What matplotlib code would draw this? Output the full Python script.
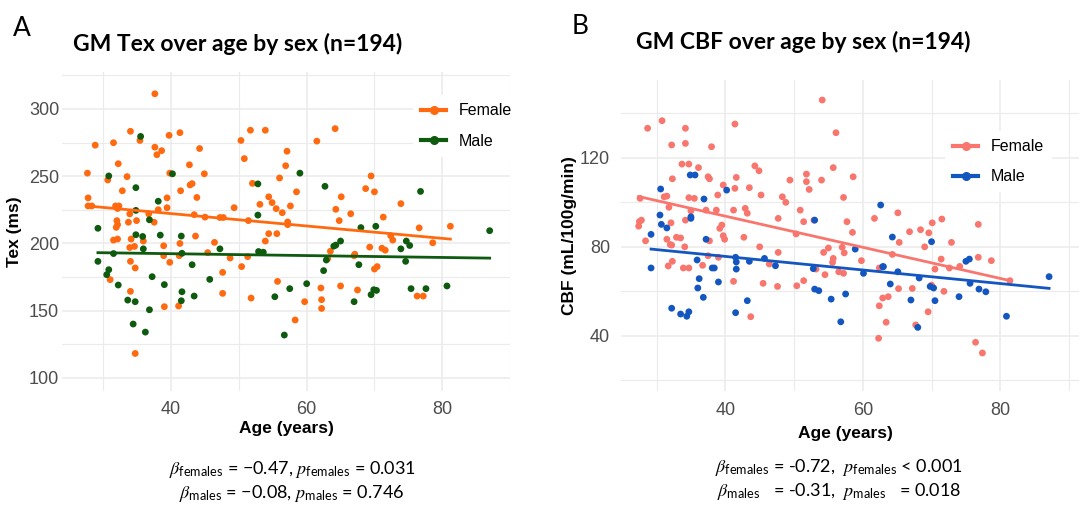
import numpy as np
import matplotlib
matplotlib.use("Agg")
import matplotlib.pyplot as plt
from matplotlib.lines import Line2D

# ---------------- data: panel A (GM Tex) ----------------
tex_f_age = [27.65, 27.75, 27.75, 28.3, 28.8, 30.65, 31.5, 32.2, 31.8, 32.3, 32.1, 32.8, 33.5, 32.0, 32.1,
             31.9, 31.5, 32.1, 33.7, 33.9, 34.0, 34.1, 33.9, 34.6, 34.9, 35.4, 35.9, 36.7, 37.5, 37.6,
             37.6, 37.9, 38.6, 38.1, 38.9, 39.4, 39.4, 39.7, 39.8, 41.3, 41.4, 41.3, 42.7, 42.8, 43.1,
             43.4, 43.6, 43.8, 44.2, 44.9, 45.0, 45.4, 46.4, 47.2, 47.7, 49.3, 50.3, 50.8, 51.4, 51.7,
             52.0, 53.1, 53.9, 53.9, 54.4, 54.4, 54.9, 55.5, 55.6, 56.0, 56.4, 56.9, 57.1, 57.2, 57.2,
             57.6, 58.5, 61.5, 63.5, 64.2, 64.3, 64.8, 65.1, 66.5, 67.1, 68.7, 69.5, 69.3, 70.0, 71.3,
             71.1, 71.6, 72.4, 72.7, 73.9, 76.6, 78.6, 81.2,
             31.0, 34.0, 34.0, 34.7, 34.7, 39.0, 38.9, 39.8, 41.1, 41.2, 47.6, 47.6, 48.7, 50.4, 51.3,
             51.8, 55.7, 58.3, 59.7, 62.1, 62.2, 62.2, 63.1, 65.0, 67.0, 67.5, 70.0, 70.4, 76.3, 77.2]
tex_f_val = [252.3, 233.9, 227.9, 227.9, 273.1, 247.2, 274.9, 259.3, 227.9, 227.9, 226.0, 239.2, 249.7, 217.0, 214.0,
             212.0, 202.5, 203.3, 215.8, 222.0, 283.4, 203.3, 197.0, 197.8, 217.0, 276.6, 201.8, 222.0, 215.8, 311.3,
             271.6, 266.0, 269.0, 225.1, 198.3, 233.9, 226.6, 280.4, 252.3, 282.4, 239.2, 200.0, 258.5, 243.5, 244.5,
             221.4, 205.5, 234.2, 270.6, 251.8, 219.6, 193.2, 200.8, 219.3, 219.3, 226.6, 276.6, 263.1, 217.0, 284.2,
             244.7, 229.1, 284.2, 201.8, 234.7, 207.3, 230.4, 225.9, 207.3, 248.7, 222.9, 257.8, 268.6, 216.0, 214.0,
             227.9, 238.4, 276.1, 194.2, 285.4, 225.4, 217.0, 234.7, 222.1, 192.0, 240.8, 250.2, 197.3, 238.4, 219.6,
             196.5, 195.0, 205.8, 202.5, 229.6, 211.6, 200.5, 212.8,
             173.1, 186.7, 164.4, 181.8, 118.2, 153.0, 190.9, 186.0, 153.5, 190.9, 178.5, 162.9, 189.2, 182.8, 190.2,
             159.4, 171.8, 143.1, 156.7, 166.9, 158.2, 151.7, 188.7, 168.4, 190.9, 165.4, 181.0, 182.8, 160.9, 160.9]

tex_m_age = [29.2, 30.8, 31.5, 34.8, 34.8, 35.5, 34.8, 35.8, 35.9, 36.8, 38.1, 38.4, 40.2, 41.5, 41.6,
             47.2, 52.8, 52.8, 52.9, 53.6, 59.0, 62.7, 64.0, 64.3, 65.0, 68.0, 70.2, 73.9, 74.7, 75.2,
             76.8, 87.0,
             29.2, 30.5, 30.8, 32.2, 33.6, 34.4, 34.7, 36.2, 36.8, 37.2, 39.0, 41.5, 41.6, 43.1, 43.4,
             45.7, 55.3, 57.5, 56.7, 60.0, 62.5, 62.9, 67.0, 67.7, 69.5, 69.9, 70.3, 74.6, 75.4, 77.6, 80.7]
tex_m_val = [211.3, 250.2, 192.5, 241.5, 224.6, 279.6, 206.5, 205.2, 196.0, 217.6, 231.4, 206.2, 251.8, 205.5, 192.7,
             196.0, 244.3, 221.1, 194.0, 193.5, 252.3, 242.5, 198.0, 198.8, 201.8, 211.8, 212.8, 196.0, 201.8, 198.5,
             238.7, 209.5,
             186.7, 176.8, 180.5, 169.1, 157.9, 140.1, 156.7, 134.1, 150.7, 175.3, 169.4, 157.4, 164.1, 184.2, 160.9,
             173.3, 160.4, 166.4, 131.9, 170.1, 179.8, 187.7, 156.7, 184.2, 161.9, 165.6, 165.1, 186.7, 166.4, 166.4, 168.4]

# linear fits: (intercept, slope)
tex_fit_f = (240.6, -0.46)
tex_fit_m = (195.2, -0.07)

# ---------------- data: panel B (GM CBF) ----------------
cbf_f_age = [27.6, 27.5, 27.8, 27.4, 28.4, 28.7, 30.8, 31.1, 31.5, 31.8, 32.1, 32.3, 32.2, 31.5, 32.2,
             32.9, 33.5, 33.7, 34.1, 34.2, 34.2, 34.7, 34.7, 35.5, 34.2, 35.0, 36.1, 37.5, 37.7, 38.0,
             37.7, 37.2, 38.7, 38.9, 39.5, 39.2, 39.7, 39.7, 39.9, 41.4, 41.4, 41.6, 41.2, 42.7, 42.9,
             43.2, 43.5, 44.3, 44.9, 45.2, 45.0, 47.7, 47.7, 48.3, 48.8, 49.4, 50.3, 50.9, 51.4, 51.8,
             51.8, 52.2, 52.9, 54.0, 54.1, 54.3, 55.0, 55.7, 56.1, 57.2, 57.7, 58.5, 58.6, 57.0, 61.7,
             65.1, 65.3, 66.8, 68.4, 69.6, 69.0, 70.1, 71.5, 72.9, 76.8, 32.0,
             31.7, 32.3, 33.9, 34.7, 36.7, 37.5, 39.0, 41.2, 43.7, 45.5, 46.4, 47.6, 50.4, 51.4, 53.2,
             54.5, 55.6, 55.7, 56.5, 57.2, 57.3, 59.8, 62.4, 62.3, 62.9, 63.7, 63.4, 62.4, 64.3, 65.2,
             67.2, 67.7, 69.5, 70.0, 70.5, 71.4, 71.8, 72.6, 74.1, 76.4, 76.8, 77.4, 78.7, 81.4]
cbf_f_val = [101.8, 91.3, 92.0, 89.3, 82.7, 133.3, 136.7, 102.5, 102.8, 97.8, 90.8, 110.6, 125.8, 83.4, 80.8,
             84.3, 84.0, 117.2, 80.0, 133.3, 126.5, 117.2, 102.1, 101.8, 92.0, 96.2, 115.6, 111.5, 110.6, 125.0,
             82.7, 96.5, 96.5, 103.3, 89.8, 88.3, 107.8, 85.0, 83.4, 135.2, 106.3, 111.2, 96.5, 84.3, 97.3,
             95.1, 106.6, 116.4, 114.2, 103.3, 80.0, 92.8, 77.5, 102.5, 100.0, 110.0, 85.8, 96.5, 91.3, 112.7,
             109.3, 105.8, 92.0, 110.0, 146.0, 77.5, 79.5, 115.6, 131.3, 102.2, 91.3, 86.5, 111.5, 79.8, 92.8,
             95.3, 82.0, 86.8, 87.7, 86.3, 80.0, 90.8, 92.5, 82.0, 90.1, 81.0,
             71.4, 73.5, 70.5, 70.5, 71.7, 76.0, 75.3, 64.5, 48.6, 63.6, 72.3, 62.2, 62.5, 64.8, 70.0,
             67.5, 73.0, 74.8, 68.8, 68.1, 77.3, 73.8, 53.5, 38.9, 57.0, 57.6, 46.1, 70.5, 76.6, 61.2,
             61.3, 44.9, 50.8, 62.8, 70.0, 74.5, 60.0, 70.5, 71.2, 37.1, 75.3, 32.3, 73.8, 64.8]

cbf_m_age = [29.2, 30.6, 30.5, 30.7, 31.5, 34.9, 35.6, 35.0, 35.0, 36.9, 37.2, 40.2, 53.0, 58.9, 62.6,
             64.3, 70.0,
             29.2, 32.2, 33.5, 34.4, 34.7, 35.9, 36.2, 36.0, 36.8, 38.1, 38.4, 39.0, 41.5, 41.6, 41.6,
             41.5, 43.2, 43.5, 45.7, 47.3, 52.8, 53.0, 53.6, 55.4, 56.8, 57.5, 60.1, 62.9, 63.0, 64.0,
             65.1, 67.0, 68.0, 68.2, 69.8, 70.3, 70.5, 74.0, 75.0, 75.5, 75.6, 76.9, 77.9, 80.9, 87.1]
cbf_m_val = [85.6, 106.0, 94.3, 90.1, 88.5, 112.3, 112.3, 93.5, 92.8, 101.5, 83.4, 105.5, 92.0, 79.0, 98.8,
             84.4, 82.3,
             70.5, 52.4, 49.8, 48.8, 50.8, 74.1, 65.7, 61.5, 57.3, 70.5, 70.5, 64.2, 75.3, 70.0, 73.2,
             50.4, 55.8, 73.5, 74.8, 71.5, 70.2, 61.0, 60.3, 56.5, 46.3, 58.8, 68.1, 71.1, 71.1, 63.3,
             68.8, 56.1, 43.8, 66.0, 62.2, 61.5, 55.8, 57.6, 73.5, 74.5, 63.6, 61.0, 59.8, 48.8, 66.6]

cbf_fit_f = (121.8, -0.70)
cbf_fit_m = (87.9, -0.305)

# ---------------- text ----------------
title_a = "GM Tex over age by sex (n=194)"
title_b = "GM CBF over age by sex (n=194)"
xlabel = "Age (years)"
ylabel_a = "Tex (ms)"
ylabel_b = "CBF (mL/100g/min)"
legend_labels = ["Female", "Male"]
stats_a = [r"$\beta_{\mathrm{females}}$ = −0.47, $p_{\mathrm{females}}$ = 0.031",
           r"$\beta_{\mathrm{males}}$ = −0.08, $p_{\mathrm{males}}$ = 0.746"]
stats_b = [r"$\beta_{\mathrm{females}}$ = -0.72,  $p_{\mathrm{females}}$ < 0.001",
           r"$\beta_{\mathrm{males}}$   = -0.31,  $p_{\mathrm{males}}$   = 0.018"]

# ---------------- style ----------------
plt.rcParams['font.family'] = ['Liberation Sans', 'DejaVu Sans']
plt.rcParams['mathtext.fontset'] = 'custom'
plt.rcParams['mathtext.rm'] = 'Lato'
plt.rcParams['mathtext.it'] = 'STIXGeneral:italic'
plt.rcParams['mathtext.bf'] = 'Lato:bold'

W, H = 1081, 508
fig = plt.figure(figsize=(W / 100, H / 100), dpi=100)

GRID = '#EBEBEB'
TICKC = '#4D4D4D'


def px_axes(left, top, right, bottom):
    return fig.add_axes([left / W, 1 - bottom / H, (right - left) / W, (bottom - top) / H])


def style(ax, xmaj, xmin, ymaj, ymin, ypad, xpad):
    for s in ax.spines.values():
        s.set_visible(False)
    ax.set_xticks(xmaj)
    ax.set_xticks(xmin, minor=True)
    ax.set_yticks(ymaj)
    ax.set_yticks(ymin, minor=True)
    ax.grid(which='major', color=GRID, lw=1.1)
    ax.grid(which='minor', color=GRID, lw=0.8)
    ax.set_axisbelow(True)
    ax.tick_params(which='both', length=0, labelsize=13, labelcolor=TICKC)
    ax.tick_params(axis='y', pad=ypad)
    ax.tick_params(axis='x', pad=xpad)


def panel(ax, fa, fv, ma, mv, fitf, fitm, cf, cm):
    ax.scatter(fa, fv, s=24, color=cf, edgecolors='none', zorder=3)
    ax.scatter(ma, mv, s=24, color=cm, edgecolors='none', zorder=3)
    for ages, fit, c in ((fa, fitf, cf), (ma, fitm, cm)):
        xs = np.array([min(ages), max(ages)])
        ax.plot(xs, fit[0] + fit[1] * xs, color=c, lw=2.0, zorder=4)


# Panel A
cfA, cmA = '#FF6A10', '#0E5A0E'
axA = px_axes(62, 72, 510, 391)
panel(axA, tex_f_age, tex_f_val, tex_m_age, tex_m_val, tex_fit_f, tex_fit_m, cfA, cmA)
axA.set_xlim(23.9, 90.0)
axA.set_ylim(90.3, 327.5)
style(axA, [40, 60, 80], [30, 50, 70, 90], [100, 150, 200, 250, 300], [125, 175, 225, 275, 325], 2, 7)

# Panel B
cfB, cmB = '#F8766D', '#1456C0'
axB = px_axes(621, 80, 1079, 391)
panel(axB, cbf_f_age, cbf_f_val, cbf_m_age, cbf_m_val, cbf_fit_f, cbf_fit_m, cfB, cmB)
axB.set_xlim(24.83, 91.45)
axB.set_ylim(15.2, 155.0)
style(axB, [40, 60, 80], [30, 50, 70, 90], [40, 80, 120], [20, 60, 100, 140], 8, 8)

# axis labels
for ax, yl, xc, xy, yc in ((axA, ylabel_a, 0.502, -0.119, -0.105), (axB, ylabel_b, 0.490, -0.138, -0.1116)):
    ax.set_xlabel(xlabel, fontsize=12.5, fontweight='bold', color='black')
    ax.xaxis.set_label_coords(xc, xy)
    ax.xaxis.label.set_va('center')
    ax.set_ylabel(yl, fontsize=12.5, fontweight='bold', color='black')
    ax.yaxis.set_label_coords(yc, 0.5)
    ax.yaxis.label.set_va('center')

# titles
axA.set_title(title_a, x=0.393, y=1.063, va='center', fontsize=16.5, fontweight='bold',
              family=['Lato', 'DejaVu Sans'])
axB.set_title(title_b, x=0.398, y=1.0965, va='center', fontsize=16.5, fontweight='bold',
              family=['Lato', 'DejaVu Sans'])

# panel letters
fig.text(22 / W, 1 - 28 / H, "A", fontsize=19, ha='center', va='center', family=['Lato', 'DejaVu Sans'])
fig.text(580 / W, 1 - 27 / H, "B", fontsize=19, ha='center', va='center', family=['Lato', 'DejaVu Sans'])

# legends
for ax, cf, cm, anchor in ((axA, cfA, cmA, (0.783, 0.8307)), (axB, cfB, cmB, (0.707, 0.737))):
    handles = [Line2D([], [], color=cf, lw=3, marker='o', markersize=5.5),
               Line2D([], [], color=cm, lw=3, marker='o', markersize=5.5)]
    leg = ax.legend(handles, legend_labels, loc='center left', bbox_to_anchor=anchor,
                    frameon=True, facecolor='white', edgecolor='none', framealpha=1,
                    fontsize=11.5, handlelength=1.6, handletextpad=0.75, labelspacing=0.95,
                    borderpad=0.5, borderaxespad=0)
    leg.set_zorder(5)

# statistics text
for lines, xc, ys in ((stats_a, 292, (470, 493)), (stats_b, 839, (467, 491))):
    for t, y in zip(lines, ys):
        fig.text(xc / W, 1 - y / H, t, fontsize=13, ha='center', va='center',
                 family=['Lato', 'DejaVu Sans'])

fig.savefig("out.png", dpi=100)
